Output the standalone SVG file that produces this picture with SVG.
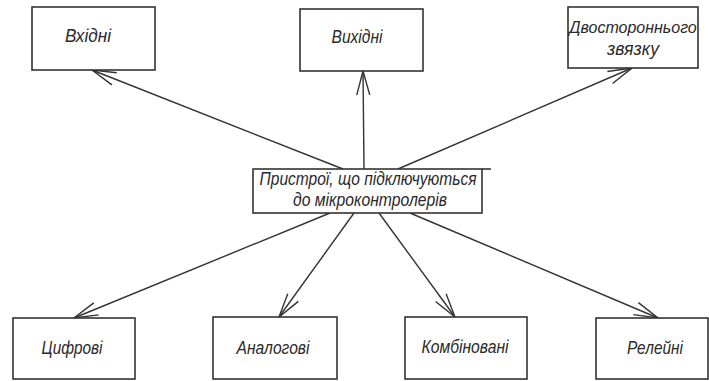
<svg xmlns="http://www.w3.org/2000/svg" width="709" height="381" viewBox="0 0 709 381">
<defs>
<style>
.box{fill:#fff;stroke:#333;stroke-width:1.6}
.t{font-family:"Liberation Sans","DejaVu Sans",sans-serif;font-style:italic;font-size:19px;fill:#2a2a2a;text-anchor:middle}
.s{font-size:16px}
.c{stroke:#333;stroke-width:1.4;fill:none;marker-end:url(#ah)}
</style>
<marker id="ah" markerUnits="userSpaceOnUse" markerWidth="30" markerHeight="20" viewBox="-26 -10 30 20" refX="0" refY="0" orient="auto">
<path d="M-24,-6.5 L0,0 L-24,6.5" fill="none" stroke="#333" stroke-width="1.4"/>
</marker>
</defs>
<rect width="709" height="381" fill="#fff"/>
<g id="connectors">
<line class="c" x1="343" y1="169" x2="92" y2="70"/>
<line class="c" x1="364" y1="169" x2="363" y2="71"/>
<line class="c" x1="398" y1="169" x2="632" y2="68"/>
<line class="c" x1="330" y1="213" x2="74" y2="318"/>
<line class="c" x1="354" y1="213" x2="279" y2="317"/>
<line class="c" x1="379" y1="213" x2="455" y2="317"/>
<line class="c" x1="410" y1="213" x2="658" y2="318"/>
</g>
<g id="n-vkhidni">
<rect class="box" x="32" y="7" width="123" height="63"/>
<text class="t" x="88" y="42" textLength="46" lengthAdjust="spacingAndGlyphs">Вхідні</text>
</g>
<g id="n-vykhidni">
<rect class="box" x="300" y="9" width="123" height="62"/>
<text class="t" x="357" y="43" textLength="51" lengthAdjust="spacingAndGlyphs">Вихідні</text>
</g>
<g id="n-dvostoronni">
<rect class="box" x="568" y="7" width="130" height="61"/>
<text class="t s" x="633" y="33">Двостороннього</text>
<text class="t" x="633" y="55" textLength="52" lengthAdjust="spacingAndGlyphs">звязку</text>
</g>
<g id="n-center">
<rect class="box" x="253" y="169" width="229" height="44"/>
<line x1="482" y1="169" x2="491" y2="169" stroke="#333" stroke-width="1.6"/>
<text class="t" x="368" y="185" textLength="217" lengthAdjust="spacingAndGlyphs">Пристрої, що підключуються</text>
<text class="t" x="370" y="206" textLength="154" lengthAdjust="spacingAndGlyphs">до мікроконтролерів</text>
</g>
<g id="n-tsyfrovi">
<rect class="box" x="13" y="318" width="122" height="61"/>
<text class="t" x="72" y="354" textLength="61" lengthAdjust="spacingAndGlyphs">Цифрові</text>
</g>
<g id="n-analogovi">
<rect class="box" x="213" y="317" width="124" height="62"/>
<text class="t" x="273" y="354" textLength="73" lengthAdjust="spacingAndGlyphs">Аналогові</text>
</g>
<g id="n-kombinovani">
<rect class="box" x="405" y="317" width="122" height="62"/>
<text class="t" x="465" y="353" textLength="87" lengthAdjust="spacingAndGlyphs">Комбіновані</text>
</g>
<g id="n-releini">
<rect class="box" x="596" y="318" width="112" height="61"/>
<text class="t" x="655" y="354" textLength="56" lengthAdjust="spacingAndGlyphs">Релейні</text>
</g>
</svg>
